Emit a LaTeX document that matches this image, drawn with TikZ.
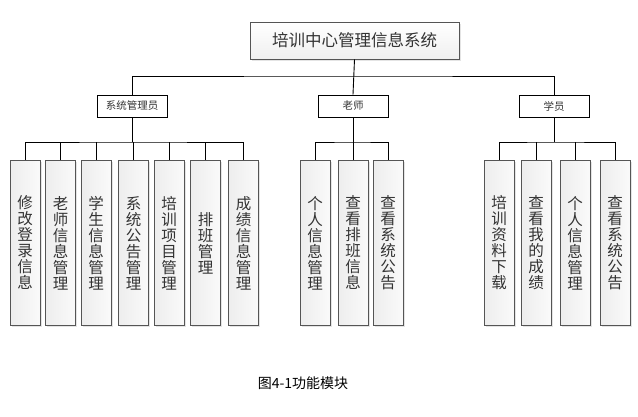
\documentclass[tikz,border=0pt]{standalone}
\usepackage{fontspec}
\newfontfamily\cjk{Noto Sans CJK SC}[Scale=1.0]
\usetikzlibrary{shadows}
\definecolor{txt}{HTML}{333333}
\definecolor{edge}{HTML}{555555}
\tikzset{
  topbox/.style={draw=edge, line width=0.9pt, top color=white, bottom color=gray!12,
    minimum width=209pt, minimum height=37pt, inner sep=0pt,
    drop shadow={shadow xshift=2pt, shadow yshift=-2pt, fill=gray!35, opacity=0.6},
    font=\cjk\fontsize{16.5}{18}\selectfont, text=txt},
  rolebox/.style={draw=black, line width=0.9pt, fill=white,
    minimum width=70pt, minimum height=22pt, inner sep=0pt,
    font=\cjk\fontsize{10.5}{12}\selectfont, text=txt},
  leafbox/.style={draw=edge, line width=0.9pt, left color=gray!14, right color=gray!4,
    minimum width=30pt, minimum height=165pt, inner sep=0pt, anchor=north,
    drop shadow={shadow xshift=1.5pt, shadow yshift=-1.5pt, fill=gray!35, opacity=0.6},
    align=center, font=\cjk\fontsize{15.5}{16}\selectfont, text=txt},
  conn/.style={draw=black, line width=0.9pt},
}
\begin{document}
\begin{tikzpicture}[x=1pt,y=-1pt]
\useasboundingbox (0,0) rectangle (638,417);
\fill[white] (0,0) rectangle (638,417);

\node[topbox] (top) at (354.5,40.5) {培训中心管理信息系统};
\node[rolebox] (admin) at (132,106) {系统管理员};
\node[rolebox] (teacher) at (353,106) {老师};
\node[rolebox] (student) at (554,106) {学员};

\coordinate (busT) at (353,76);
\draw[conn] (top.south) -- (teacher.north);
\draw[conn] (admin.north) |- (busT) -| (student.north);

% admin leaves
\node[leafbox] (a1) at (25,160) {修\\改\\登\\录\\信\\息};
\node[leafbox] (a2) at (60.5,160) {老\\师\\信\\息\\管\\理};
\node[leafbox] (a3) at (96,160) {学\\生\\信\\息\\管\\理};
\node[leafbox] (a4) at (133.5,160) {系\\统\\公\\告\\管\\理};
\node[leafbox] (a5) at (169,160) {培\\训\\项\\目\\管\\理};
\node[leafbox] (a6) at (205.5,160) {排\\班\\管\\理};
\node[leafbox] (a7) at (243.5,160) {成\\绩\\信\\息\\管\\理};

% teacher leaves
\node[leafbox] (t1) at (315,160) {个\\人\\信\\息\\管\\理};
\node[leafbox] (t2) at (353,160) {查\\看\\排\\班\\信\\息};
\node[leafbox] (t3) at (388,160) {查\\看\\系\\统\\公\\告};

% student leaves
\node[leafbox] (s1) at (499,160) {培\\训\\资\\料\\下\\载};
\node[leafbox] (s2) at (536,160) {查\\看\\我\\的\\成\\绩};
\node[leafbox] (s3) at (575,160) {个\\人\\信\\息\\管\\理};
\node[leafbox] (s4) at (615,160) {查\\看\\系\\统\\公\\告};

% admin sub-bus
\coordinate (abus) at (132,142);
\draw[conn] (admin.south) -- (abus);
\draw[conn] (a1.north) |- (abus) -| (a7.north);
\foreach \n in {a2,a3,a4,a5,a6} \draw[conn] (\n.north) -- (\n.north |- abus);

% teacher sub-bus
\coordinate (tbus) at (353,142);
\draw[conn] (teacher.south) -- (t2.north);
\draw[conn] (t1.north) |- (tbus) -| (t3.north);

% student sub-bus
\coordinate (sbus) at (554,142);
\draw[conn] (student.south) -- (sbus);
\draw[conn] (s1.north) |- (sbus) -| (s4.north);
\foreach \n in {s2,s3} \draw[conn] (\n.north) -- (\n.north |- sbus);

\node[font=\cjk\fontsize{14}{15}\selectfont, text=black] (cap) at (303,383) {图4-1功能模块};
\end{tikzpicture}
\end{document}
